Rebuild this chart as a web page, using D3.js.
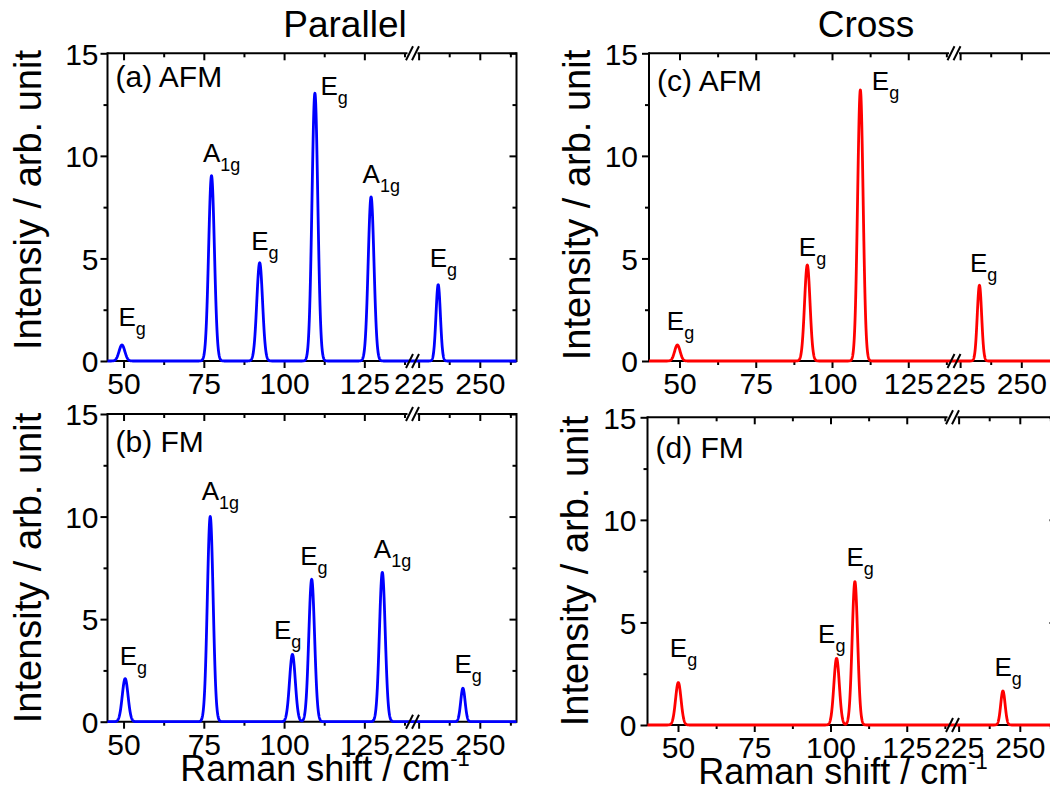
<!DOCTYPE html>
<html><head><meta charset="utf-8">
<script src="https://cdn.jsdelivr.net/npm/d3@7"></script>
<style>
body{margin:0;background:#fff}
svg{display:block}
text{font-family:"Liberation Sans",Arial,Helvetica,sans-serif;fill:#000}
</style>
</head><body>
<svg id="chart" width="1050" height="804"></svg>
<script>
// ---------------- data ----------------
const columnTitles = ["Parallel", "Cross"];
const panelTags = ["(a) AFM", "(b) FM", "(c) AFM", "(d) FM"];
const yTitles = ["Intensiy / arb. unit", "Intensity / arb. unit", "Intensity / arb. unit", "Intensity / arb. unit"];
const xTitleMain = "Raman shift / cm";
const xTitleSup = "-1";
const yTicks = [0, 5, 10, 15];
const yMinor = [2.5, 7.5, 12.5];
const xTicksLow = [50, 75, 100, 125];
const xMinorLow = [62.5, 87.5, 112.5, 137.5];
const xTicksHigh = [225, 250];
const xMinorHigh = [237.5, 262.5];

// peak centres (cm-1), intensities and mode labels
const posA = [49.5, 77.4, 92.4, 109.6, 127.1, 233.0];
const intA = [0.78, 9.03, 4.79, 13.05, 8.0, 3.72];
const labA = ["Eg", "A1g", "Eg", "Eg", "A1g", "Eg"];
const posB = [50.5, 77.0, 102.6, 108.6, 130.6, 243.1];
const intB = [2.1, 10.0, 3.28, 6.94, 7.28, 1.63];
const labB = ["Eg", "A1g", "Eg", "Eg", "A1g", "Eg"];
const posC = [49.3, 91.9, 109.3, 232.9];
const intC = [0.78, 4.68, 13.21, 3.69];
const labC = ["Eg", "Eg", "Eg", "Eg"];
const posD = [50.1, 102.0, 108.0, 243.1];
const intD = [2.07, 3.25, 6.99, 1.66];
const labD = ["Eg", "Eg", "Eg", "Eg"];

// ---------------- layout ----------------
const FONT_TICK = 30, FONT_TITLE = 37, FONT_TAG = 30, FONT_LAB = 26, FONT_SUB = 18;
const PW = 409, SEG1 = 305, PH = 307.7;
const highDomain = [222.5, 265];
const sigma = 0.9;
const panels = [
  {pos: posA, inten: intA, lab: labA, left: 107.5, top: 53.3, lo: 45, color: "#0000ff", tagDy: 34, ytx: 41, yty: 200, tickGap: 2,
   nudge: [[5,-4],[0,1],[0,2],[14,16.5],[0,1],[0,-3]]},
  {pos: posB, inten: intB, lab: labB, left: 107.5, top: 414, lo: 45, color: "#0000ff", tagDy: 38, ytx: 41, yty: 568, tickGap: 2,
   nudge: [[3,1],[0,-2],[-10,0],[-3,1],[0,1],[0,0]]},
  {pos: posC, inten: intC, lab: labC, left: 649, top: 53.3, lo: 40, color: "#ff0000", tagDy: 38, ytx: 590, yty: 205, tickGap: 4,
   nudge: [[-2,0],[0,6],[20,14.5],[-1,2]]},
  {pos: posD, inten: intD, lab: labD, left: 647.5, top: 417.3, lo: 40, color: "#ff0000", tagDy: 41, ytx: 588, yty: 571, tickGap: 4,
   nudge: [[0,-10.5],[-10,0],[0,-0.5],[0,0.5]]}
];

const svg = d3.select("#chart");

// column titles
svg.append("text").attr("x", 345).attr("y", 37).attr("text-anchor", "middle")
  .attr("font-size", FONT_TITLE).text(columnTitles[0]);
svg.append("text").attr("x", 866).attr("y", 37).attr("text-anchor", "middle")
  .attr("font-size", FONT_TITLE).text(columnTitles[1]);

// x-axis titles
[[325, 781], [843, 784]].forEach(([cx, by]) => {
  const t = svg.append("text").attr("x", cx).attr("y", by).attr("text-anchor", "middle")
    .attr("font-size", 36);
  t.append("tspan").text(xTitleMain);
  t.append("tspan").attr("dy", -15).attr("font-size", 22).text(xTitleSup);
});

panels.forEach((p, i) => {
  const g = svg.append("g").attr("transform", `translate(${p.left},${p.top})`);
  const sLo = d3.scaleLinear().domain([p.lo, 140]).range([0, SEG1]);
  const sHi = d3.scaleLinear().domain(highDomain).range([SEG1, PW]);
  const xs = v => (v <= 140 ? sLo(v) : sHi(v));
  const y = d3.scaleLinear().domain([0, 15]).range([PH, 0]);

  // y title
  svg.append("text")
    .attr("transform", `translate(${p.ytx},${p.yty}) rotate(-90)`)
    .attr("text-anchor", "middle").attr("font-size", 38).text(yTitles[i]);

  const styleAxis = sel => {
    sel.attr("font-family", null).attr("font-size", null);
    sel.select(".domain").remove();
    sel.selectAll("line").attr("stroke", "#000").attr("stroke-width", 2);
    sel.selectAll("text").attr("font-size", FONT_TICK);
  };

  // left axis
  g.append("g").call(d3.axisLeft(y).tickValues(yTicks).tickSize(7).tickPadding(p.tickGap).tickFormat(d3.format("d"))).call(styleAxis)
    .selectAll("text").attr("dy", "0.36em");
  g.append("g").call(d3.axisLeft(y).tickValues(yMinor).tickSize(4).tickFormat("")).call(styleAxis);
  // right axis (inward ticks)
  g.append("g").attr("transform", `translate(${PW},0)`)
    .call(d3.axisLeft(y).tickValues(yTicks).tickSize(7).tickFormat("")).call(styleAxis);
  g.append("g").attr("transform", `translate(${PW},0)`)
    .call(d3.axisLeft(y).tickValues(yMinor).tickSize(4).tickFormat("")).call(styleAxis);

  // bottom axis (outward ticks with labels) and top axis (inward)
  [[sLo, xTicksLow, xMinorLow], [sHi, xTicksHigh, xMinorHigh]].forEach(([sc, maj, mnr]) => {
    g.append("g").attr("transform", `translate(0,${PH})`)
      .call(d3.axisBottom(sc).tickValues(maj).tickSize(7).tickPadding(5).tickFormat(d3.format("d"))).call(styleAxis);
    g.append("g").attr("transform", `translate(0,${PH})`)
      .call(d3.axisBottom(sc).tickValues(mnr).tickSize(4).tickFormat("")).call(styleAxis);
    g.append("g").call(d3.axisBottom(sc).tickValues(maj).tickSize(7).tickFormat("")).call(styleAxis);
    g.append("g").call(d3.axisBottom(sc).tickValues(mnr).tickSize(4).tickFormat("")).call(styleAxis);
  });

  // frame lines
  const fr = g.append("g").attr("stroke", "#000").attr("stroke-width", 2).attr("fill", "none");
  fr.append("line").attr("x1", 0).attr("x2", 0).attr("y1", -1).attr("y2", PH + 1);
  fr.append("line").attr("x1", PW).attr("x2", PW).attr("y1", -1).attr("y2", PH + 1);
  fr.append("line").attr("x1", 0).attr("x2", SEG1 - 5).attr("y1", 0).attr("y2", 0);
  fr.append("line").attr("x1", SEG1 + 5).attr("x2", PW).attr("y1", 0).attr("y2", 0);
  fr.append("line").attr("x1", 0).attr("x2", PW).attr("y1", PH).attr("y2", PH);

  // spectrum: gaussian-broadened peaks
  const spec = x => d3.sum(p.pos, (c, k) => p.inten[k] * Math.exp(-((x - c) ** 2) / (2 * sigma * sigma)));
  const pts = [];
  for (let x = p.lo; x <= 140.0001; x += 0.05) pts.push([x, spec(x)]);
  for (let x = highDomain[0]; x <= highDomain[1] + 0.0001; x += 0.05) pts.push([x, spec(x)]);
  g.append("path").datum(pts)
    .attr("d", d3.line().x(d => xs(d[0])).y(d => y(d[1])))
    .attr("fill", "none").attr("stroke", p.color).attr("stroke-width", 2.8)
    .attr("stroke-linejoin", "round");

  // axis break marks
  [0, PH].forEach(yy => {
    [-3, 3].forEach(o => {
      g.append("line").attr("x1", SEG1 + o - 3.5).attr("y1", yy + 7).attr("x2", SEG1 + o + 3.5).attr("y2", yy - 7)
        .attr("stroke", "#000").attr("stroke-width", 2);
    });
  });

  // panel tag
  g.append("text").attr("x", 8).attr("y", p.tagDy).attr("font-size", FONT_TAG).text(panelTags[i]);

  // peak labels
  p.pos.forEach((c, k) => {
    const px = xs(c), py = y(p.inten[k]);
    const [dx, dy] = p.nudge[k];
    const t = g.append("text").attr("x", px - 8.5 + dx).attr("y", py - 15 + dy).attr("font-size", FONT_LAB);
    t.append("tspan").text(p.lab[k][0]);
    t.append("tspan").attr("dy", 9).attr("font-size", FONT_SUB).text(p.lab[k].slice(1));
  });
});
</script>
</body></html>
